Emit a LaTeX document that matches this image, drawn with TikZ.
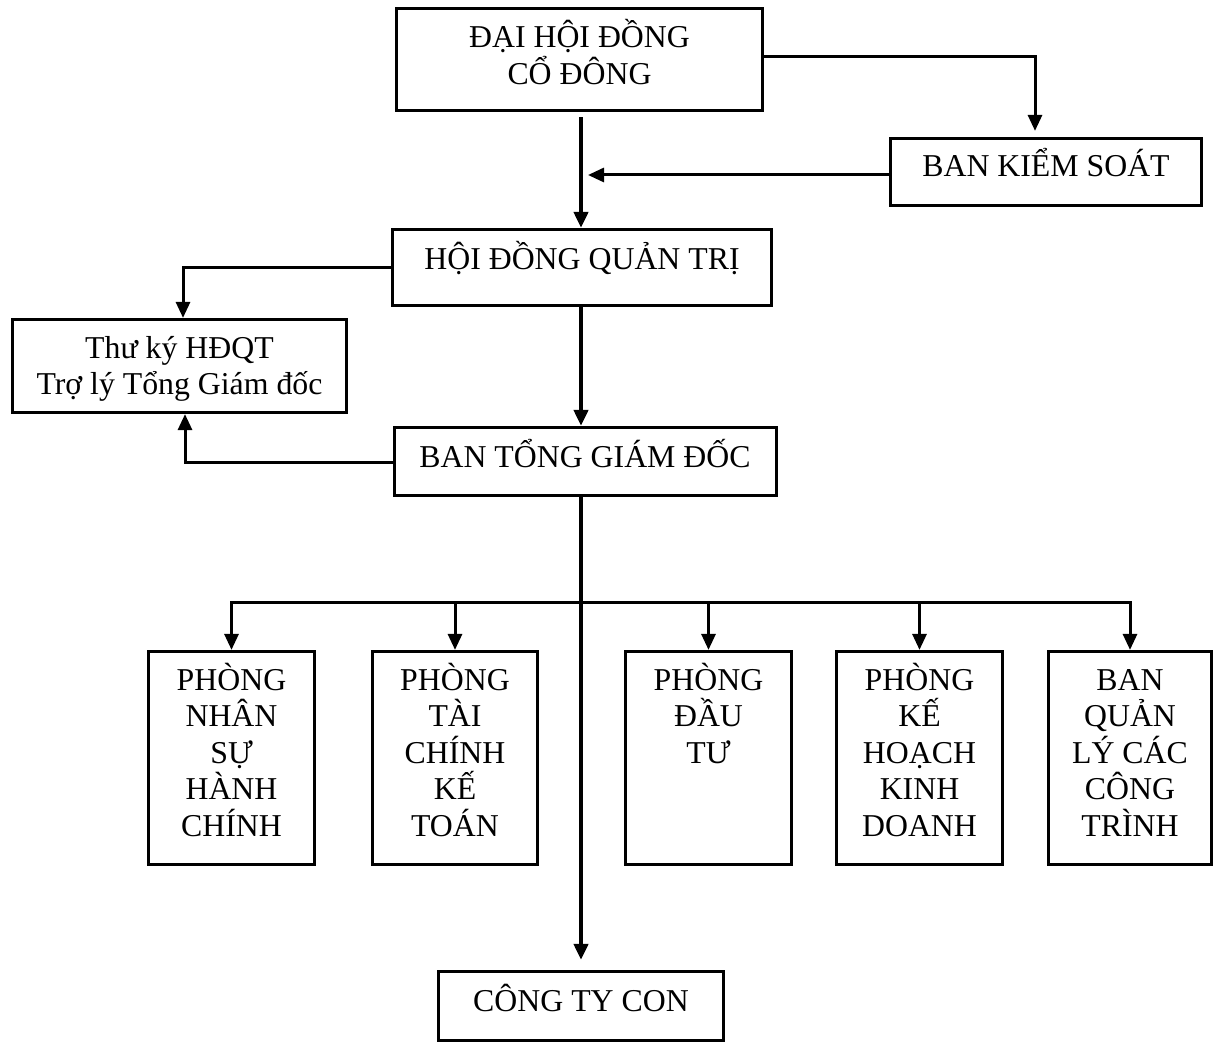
\documentclass[tikz,border=0pt]{standalone}
\usepackage{fontspec}
\setmainfont{Liberation Serif}
\usetikzlibrary{arrows.meta}
\newcommand\mlines[1]{\vtop{\baselineskip=36.5pt\lineskiplimit=-100pt\lineskip=0pt\halign{\hfil##\hfil\cr#1\crcr}}}
\begin{document}
\begin{tikzpicture}[x=1pt,y=-1pt,
  every node/.style={font=\fontsize{31.8pt}{36.5pt}\selectfont, inner sep=0pt},
  box/.style={draw, line width=3.2pt},
  txt/.style={anchor=base},
  conn/.style={line width=3pt, -{Triangle[length=16pt,width=14pt]}},
  mainline/.style={line width=4.2pt, -{Triangle[length=16pt,width=14pt]}}]
\useasboundingbox (0,0) rectangle (1215,1043);
% boxes
\node[box, minimum width=366pt, minimum height=102pt] (box1) at (579.5,59.5) {};
\node[box, minimum width=311pt, minimum height=67pt] (bks) at (1046,172) {};
\node[box, minimum width=379pt, minimum height=76pt] (hdqt) at (582,267.5) {};
\node[box, minimum width=334pt, minimum height=93pt] (thuky) at (179.5,366) {};
\node[box, minimum width=382pt, minimum height=68pt] (btgd) at (585.5,461.5) {};
\node[box, minimum width=285pt, minimum height=69pt] (ctc) at (581,1006) {};
\node[box, minimum width=166pt, minimum height=213pt] (ns) at (231.5,758) {};
\node[box, minimum width=165pt, minimum height=213pt] (tc) at (455,758) {};
\node[box, minimum width=166pt, minimum height=213pt] (dt) at (708.5,758) {};
\node[box, minimum width=166pt, minimum height=213pt] (kh) at (919.5,758) {};
\node[box, minimum width=163pt, minimum height=213pt] (bq) at (1130,758) {};
% texts
\node[txt] (t1) at (579.5,48) {\mlines{ĐẠI HỘI ĐỒNG\cr CỔ ĐÔNG}};
\node[txt] (tbks) at (1046,177) {BAN KIỂM SOÁT};
\node[txt] (thdqt) at (582,269) {HỘI ĐỒNG QUẢN TRỊ};
\node[txt] (tthuky) at (179.5,358) {\mlines{Thư ký HĐQT\cr Trợ lý Tổng Giám đốc}};
\node[txt] (tbtgd) at (585,467) {BAN TỔNG GIÁM ĐỐC};
\node[txt] (tctc) at (581,1011) {CÔNG TY CON};
\node[txt] (tns) at (231.5,690) {\mlines{PHÒNG\cr NHÂN\cr SỰ\cr HÀNH\cr CHÍNH}};
\node[txt] (ttc) at (455,690) {\mlines{PHÒNG\cr TÀI\cr CHÍNH\cr KẾ\cr TOÁN}};
\node[txt] (tdt) at (708.5,690) {\mlines{PHÒNG\cr ĐẦU\cr TƯ}};
\node[txt] (tkh) at (919.5,690) {\mlines{PHÒNG\cr KẾ\cr HOẠCH\cr KINH\cr DOANH}};
\node[txt] (tbq) at (1130,690) {\mlines{BAN\cr QUẢN\cr LÝ CÁC\cr CÔNG\cr TRÌNH}};
% helper coordinates
\coordinate (col) at (581,0);
\coordinate (j1) at (588,175);
\coordinate (c1) at (1035,57);
\coordinate (c2) at (183,267);
\coordinate (c3) at (185,462);
\coordinate (br) at (0,602);
% connectors
\draw[mainline, shorten <=5pt] (box1.south -| col) -- (hdqt.north -| col);
\draw[conn] (bks.west |- j1) -- (j1);
\draw[conn, shorten >=6pt] (box1.east |- c1) -| (bks.north -| c1);
\draw[conn] (hdqt.west |- c2) -| (thuky.north -| c2);
\draw[conn] (btgd.west |- c3) -| (thuky.south -| c3);
\draw[mainline] (hdqt.south -| col) -- (btgd.north -| col);
\draw[mainline, shorten >=10pt] (btgd.south -| col) -- (ctc.north -| col);
\draw[conn] (col |- br) -| (ns.north);
\draw[conn] (col |- br) -| (bq.north);
\draw[conn] (tc.north |- br) -- (tc.north);
\draw[conn] (dt.north |- br) -- (dt.north);
\draw[conn] (kh.north |- br) -- (kh.north);
\end{tikzpicture}
\end{document}
